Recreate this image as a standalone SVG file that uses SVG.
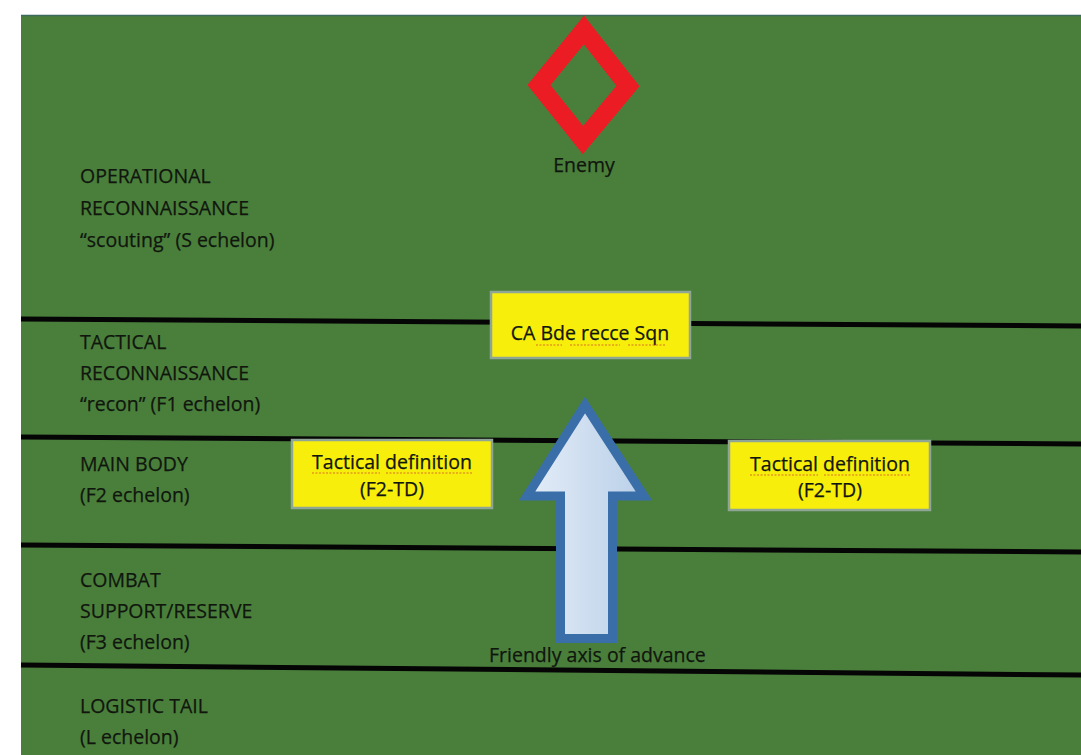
<svg xmlns="http://www.w3.org/2000/svg" width="1081" height="755" viewBox="0 0 1081 755">
  <style>
    .lbl { font-family: "Open Sans", "Liberation Sans", sans-serif; font-size: 19.5px; fill: #10160e; stroke: #10160e; stroke-width: 0.25; }
    .box { fill: #f7ee0c; stroke: #8fa596; stroke-width: 2.5; }
    .band { stroke: #050505; stroke-width: 5; fill: none; }
    .squig { stroke: #d2502a; stroke-width: 1.2; stroke-dasharray: 2 1.5; fill: none; opacity: 0.8; }
  </style>
  <defs>
    <linearGradient id="shaftFill" x1="0" y1="0" x2="1" y2="0">
      <stop offset="0" stop-color="#e4edf8"/>
      <stop offset="1" stop-color="#b9cfe8"/>
    </linearGradient>
  </defs>

  <!-- background -->
  <rect x="0" y="0" width="1081" height="755" fill="#ffffff"/>
  <rect x="21" y="15" width="1060" height="740" fill="#4a7f3b"/>
  <line x1="21" y1="15.5" x2="1081" y2="15.5" stroke="#3d6a5e" stroke-width="1.5"/>

  <!-- echelon boundaries -->
  <g id="connectors">
    <line class="band" x1="21" y1="319" x2="1081" y2="326"/>
    <line class="band" x1="21" y1="437" x2="1081" y2="444"/>
    <line class="band" x1="21" y1="545" x2="1081" y2="552"/>
    <line class="band" x1="21" y1="665" x2="1081" y2="675"/>
  </g>

  <!-- echelon labels -->
  <g id="label-s-echelon">
    <text class="lbl" x="80" y="183">OPERATIONAL</text>
    <text class="lbl" x="80" y="215">RECONNAISSANCE</text>
    <text class="lbl" x="80" y="247">“scouting” (S echelon)</text>
  </g>
  <g id="label-f1-echelon">
    <text class="lbl" x="80" y="349">TACTICAL</text>
    <text class="lbl" x="80" y="380">RECONNAISSANCE</text>
    <text class="lbl" x="80" y="411">“recon” (F1 echelon)</text>
  </g>
  <g id="label-f2-echelon">
    <text class="lbl" x="80" y="471">MAIN BODY</text>
    <text class="lbl" x="80" y="502">(F2 echelon)</text>
  </g>
  <g id="label-f3-echelon">
    <text class="lbl" x="80" y="587">COMBAT</text>
    <text class="lbl" x="80" y="618">SUPPORT/RESERVE</text>
    <text class="lbl" x="80" y="649">(F3 echelon)</text>
  </g>
  <g id="label-l-echelon">
    <text class="lbl" x="80" y="713">LOGISTIC TAIL</text>
    <text class="lbl" x="80" y="744">(L echelon)</text>
  </g>

  <!-- enemy symbol -->
  <g id="enemy">
    <polygon points="584,30 628,86 583,140 539,85" fill="none" stroke="#ec1c24" stroke-width="18" stroke-linejoin="miter"/>
    <text class="lbl" x="584" y="172" text-anchor="middle">Enemy</text>
  </g>

  <!-- brigade recce squadron -->
  <g id="recce-sqn">
    <rect class="box" x="491" y="292" width="199" height="66"/>
    <text class="lbl" x="590" y="340" text-anchor="middle">CA Bde recce Sqn</text>
    <path class="squig" d="M536 345 H562 M570 345 H620 M628 345 H665"/>
  </g>

  <!-- tactical definition, left -->
  <g id="td-left">
    <rect class="box" x="292" y="440" width="200" height="68"/>
    <text class="lbl" x="392" y="469" text-anchor="middle">Tactical definition</text>
    <text class="lbl" x="392" y="496" text-anchor="middle">(F2-TD)</text>
    <path class="squig" d="M312 473 H380 M386 473 H473"/>
  </g>

  <!-- tactical definition, right -->
  <g id="td-right">
    <rect class="box" x="729" y="441" width="201" height="69"/>
    <text class="lbl" x="830" y="471" text-anchor="middle">Tactical definition</text>
    <text class="lbl" x="830" y="497" text-anchor="middle">(F2-TD)</text>
    <path class="squig" d="M750 475 H818 M824 475 H911"/>
  </g>

  <!-- axis of advance -->
  <g id="axis-of-advance">
    <path d="M585 405 L644 496 L612.5 496 L612.5 638.5 L560.5 638.5 L560.5 496 L527 496 Z" fill="url(#shaftFill)" stroke="#3a6ea8" stroke-width="9" stroke-linejoin="miter"/>
    <text class="lbl" x="489" y="662">Friendly axis of advance</text>
  </g>
</svg>
